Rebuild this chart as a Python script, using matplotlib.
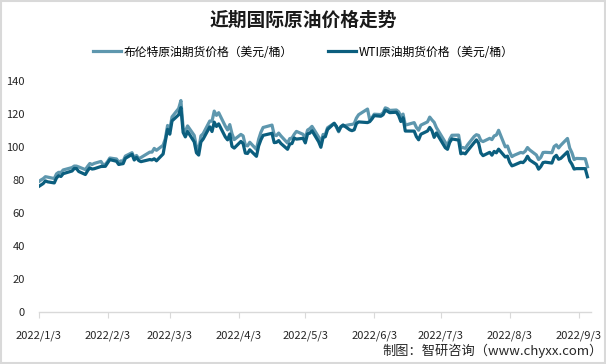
import pandas as pd
import matplotlib
matplotlib.use("Agg")
import matplotlib.pyplot as plt
from matplotlib.patches import Rectangle

plt.rcParams['font.family'] = ['Noto Sans CJK SC', 'DejaVu Sans']

# 交易日（2022年）
fechas = (
    ["2022-01-%02d" % d for d in [3, 4, 5, 6, 7, 10, 11, 12, 13, 14, 18, 19, 20, 21, 24, 25, 26, 27, 28, 31]]
    + ["2022-02-%02d" % d for d in [1, 2, 3, 4, 7, 8, 9, 10, 11, 14, 15, 16, 17, 18, 22, 23, 24, 25, 28]]
    + ["2022-03-%02d" % d for d in [1, 2, 3, 4, 7, 8, 9, 10, 11, 14, 15, 16, 17, 18, 21, 22, 23, 24, 25, 28, 29, 30, 31]]
    + ["2022-04-%02d" % d for d in [1, 4, 5, 6, 7, 8, 11, 12, 13, 14, 18, 19, 20, 21, 22, 25, 26, 27, 28, 29]]
    + ["2022-05-%02d" % d for d in [2, 3, 4, 5, 6, 9, 10, 11, 12, 13, 16, 17, 18, 19, 20, 23, 24, 25, 26, 27, 31]]
    + ["2022-06-%02d" % d for d in [1, 2, 3, 6, 7, 8, 9, 10, 13, 14, 15, 16, 17, 21, 22, 23, 24, 27, 28, 29, 30]]
    + ["2022-07-%02d" % d for d in [1, 5, 6, 7, 8, 11, 12, 13, 14, 15, 18, 19, 20, 21, 22, 25, 26, 27, 28, 29]]
    + ["2022-08-%02d" % d for d in [1, 2, 3, 4, 5, 8, 9, 10, 11, 12, 15, 16, 17, 18, 19, 22, 23, 24, 25, 26, 29, 30, 31]]
    + ["2022-09-%02d" % d for d in [1, 2, 6, 7]]
)

brent = [
    78.98, 80.00, 80.80, 81.99, 81.75, 80.87, 83.72, 84.67, 84.47, 86.06, 87.51, 88.44, 88.38, 87.89, 86.27, 88.20, 89.96, 89.34, 90.03, 91.21,
    89.16, 89.47, 91.11, 93.27, 92.69, 90.78, 91.55, 91.41, 94.44, 96.48, 93.28, 94.81, 92.97, 93.54, 96.84, 96.84, 99.08, 97.93, 100.99,
    104.97, 112.93, 110.46, 118.11, 123.21, 127.98, 111.14, 109.33, 112.67, 106.90, 99.91, 98.02, 106.64, 107.93, 115.62, 115.48, 121.60, 119.03, 120.65, 112.48, 110.23, 113.45, 107.91,
    104.39, 107.53, 106.64, 101.07, 100.58, 102.78, 98.48, 104.64, 108.78, 111.70, 113.16, 107.25, 106.80, 108.33, 106.65, 102.32, 104.99, 105.32, 107.59, 109.34,
    107.58, 104.97, 110.14, 111.00, 112.39, 105.94, 102.46, 107.51, 107.45, 111.55, 114.24, 111.93, 109.11, 112.04, 112.55, 113.42, 113.56, 114.03, 117.40, 119.43, 122.84,
    116.29, 117.61, 119.72, 119.51, 120.57, 123.58, 123.07, 122.01, 122.27, 121.17, 118.51, 119.81, 113.12, 114.65, 111.74, 110.05, 113.12, 115.09, 117.98, 116.26, 114.81,
    111.63, 102.77, 100.69, 104.65, 107.02, 107.10, 99.49, 99.57, 99.10, 101.16, 106.27, 107.35, 106.92, 103.86, 103.20, 105.15, 104.40, 106.62, 107.14, 110.01,
    100.03, 100.54, 96.78, 94.12, 94.92, 96.65, 96.31, 97.40, 99.60, 98.15, 95.10, 92.34, 93.65, 96.59, 96.72, 96.48, 100.22, 101.22, 99.34, 100.99, 105.09, 99.31, 96.49,
    92.36, 93.02, 92.83, 88.00,
]

wti = [
    76.08, 76.99, 77.85, 79.46, 78.90, 78.23, 81.22, 82.64, 82.12, 83.82, 85.43, 86.96, 86.90, 85.14, 83.31, 85.60, 87.35, 86.61, 86.82, 88.15,
    88.20, 88.26, 90.27, 92.31, 91.32, 89.36, 89.66, 89.88, 93.10, 95.46, 92.07, 93.66, 91.76, 91.07, 92.35, 92.10, 92.81, 91.59, 95.72,
    103.41, 110.60, 107.67, 115.68, 119.40, 123.70, 108.70, 106.02, 109.33, 103.01, 96.44, 95.04, 102.98, 104.70, 112.12, 109.27, 114.93, 112.34, 113.90, 105.96, 104.24, 107.82, 100.28,
    99.27, 103.28, 101.96, 96.23, 96.03, 98.26, 94.29, 100.60, 104.25, 106.95, 108.21, 102.56, 102.75, 103.79, 102.07, 98.54, 101.70, 102.02, 105.36, 104.69,
    105.17, 102.41, 107.81, 108.26, 109.77, 103.09, 99.76, 105.71, 106.13, 110.49, 114.20, 112.40, 109.59, 112.21, 113.23, 110.29, 109.77, 110.33, 114.09, 115.07, 114.67,
    115.26, 116.87, 118.87, 118.50, 119.41, 122.11, 121.51, 120.67, 120.93, 118.93, 115.31, 117.59, 109.56, 109.52, 106.19, 104.27, 107.62, 109.57, 111.76, 109.78, 105.76,
    108.43, 99.50, 98.53, 102.73, 104.79, 104.09, 95.84, 96.30, 95.78, 97.59, 102.60, 104.22, 102.26, 96.35, 94.70, 96.70, 94.98, 97.26, 96.42, 98.62,
    93.89, 94.42, 90.66, 88.54, 89.01, 90.76, 90.50, 91.93, 94.34, 92.09, 89.41, 86.53, 88.11, 90.50, 90.77, 90.23, 93.74, 94.89, 92.52, 93.06, 97.01, 91.64, 89.55,
    86.61, 86.87, 86.88, 81.94,
]

etiquetas_x = ["2022/%d/3" % m for m in range(1, 10)]
ticks_x = pd.to_datetime(["2022-%02d-03" % m for m in range(1, 10)])
ticks_y = [0, 20, 40, 60, 80, 100, 120, 140]

df = pd.DataFrame({'fecha': pd.to_datetime(fechas), 'brent': brent, 'wti': wti})

fig = plt.figure(figsize=(6.06, 3.64), dpi=100)
ax = fig.add_axes([0.0639, 0.1415, 0.9107, 0.637])

ax.plot(df['fecha'], df['brent'], color='#5E97AE', lw=2.3, label='布伦特原油期货价格（美元/桶）', solid_joinstyle='round')
ax.plot(df['fecha'], df['wti'], color='#0B5E7E', lw=2.3, label='WTI原油期货价格（美元/桶）', solid_joinstyle='round')

ax.set_xlim(pd.Timestamp('2022-01-03'), pd.Timestamp('2022-09-08 10:00'))
ax.set_ylim(0, 140)
ax.set_xticks(ticks_x)
ax.set_xticklabels(etiquetas_x)
ax.set_yticks(ticks_y)

for s in ['top', 'right', 'left']:
    ax.spines[s].set_visible(False)
ax.spines['bottom'].set_color('#D9D9D9')
ax.spines['bottom'].set_linewidth(1)
ax.tick_params(axis='x', length=4, color='#D9D9D9', labelsize=8, pad=9, labelcolor='#262626')
ax.tick_params(axis='y', length=0, labelsize=8, pad=10, labelcolor='#262626')

fig.text(0.5, 0.945, '近期国际原油价格走势', ha='center', va='center', fontsize=13.5, fontweight='bold', color='#1a1a1a')
fig.legend(loc='center', bbox_to_anchor=(0.5, 0.857), ncol=2, frameon=False, fontsize=8.5,
           handlelength=2.4, handletextpad=0.2, columnspacing=3.0)
fig.text(0.995, 0.036, '制图：智研咨询（www.chyxx.com）', ha='right', va='center', fontsize=9.5, color='#262626')

fig.patches.append(Rectangle((0.001, 0.002), 0.997, 0.996, transform=fig.transFigure,
                             fill=False, edgecolor='#D9D9D9', lw=1.5))

fig.savefig('out.png', dpi=100)
